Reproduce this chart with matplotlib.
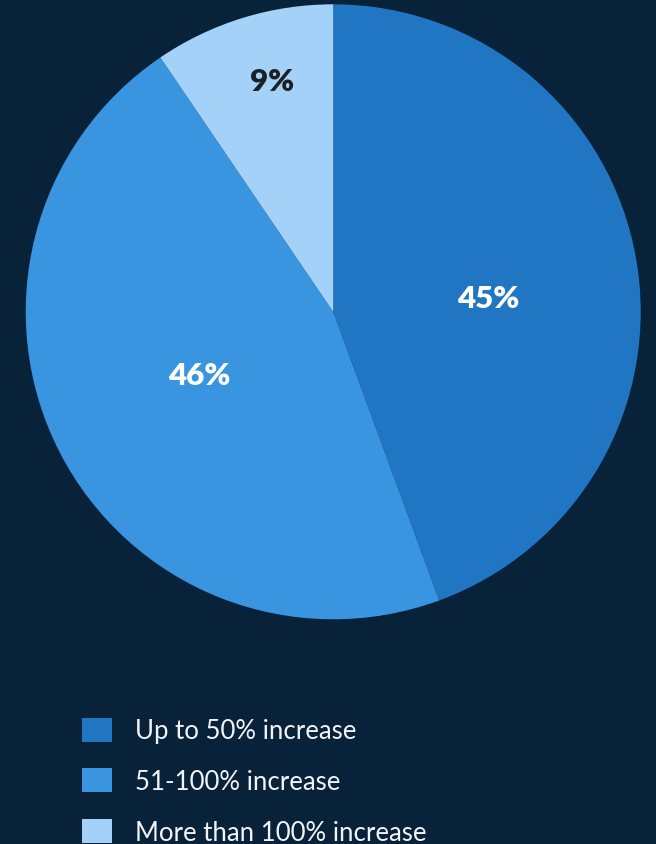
import matplotlib
matplotlib.use("Agg")
import matplotlib.pyplot as plt
from matplotlib.patches import Patch
import numpy as np

categories = ["Up to 50% increase", "51-100% increase", "More than 100% increase"]
values = [44.4, 46.1, 9.5]
labels = ["45%", "46%", "9%"]
colors = ["#2176C4", "#3A95E1", "#A3D1F7"]
label_colors = ["white", "white", "#1c1f24"]
label_radius = [0.505, 0.48, 0.776]
label_shift = [-5.0, -2.0, -2.3]

BG = "#072239"
W, H = 656, 845
fig = plt.figure(figsize=(W / 100, H / 100), dpi=100, facecolor=BG)

cx, cy, R = 333.2, 312.8, 307.5
ax = fig.add_axes([(cx - R) / W, 1 - (cy + R) / H, 2 * R / W, 2 * R / H])
ax.set_facecolor(BG)
wedges, _ = ax.pie(values, colors=colors, startangle=90, counterclock=False,
                   wedgeprops=dict(linewidth=0))
ax.set_xlim(-1, 1)
ax.set_ylim(-1, 1)
ax.set_aspect("equal")
ax.axis("off")

total = sum(values)
cum = 0
for v, lab, c, r, s in zip(values, labels, label_colors, label_radius, label_shift):
    mid = 90 - 360 * (cum + v / 2) / total + s
    cum += v
    x = r * np.cos(np.radians(mid))
    y = r * np.sin(np.radians(mid))
    ax.text(x, y, lab, ha="center", va="center", color=c,
            fontsize=22.5, fontweight="heavy", family="Lato")

handles = [Patch(facecolor=c, edgecolor="none") for c in colors]
leg = fig.legend(handles, categories, loc="upper left",
                 bbox_to_anchor=(74 / W, 1 - 711 / H), frameon=False,
                 prop=dict(family="Lato", size=18.5),
                 handlelength=1.17, handleheight=1.05, handletextpad=0.9,
                 labelspacing=0.97, borderaxespad=0, borderpad=0.3)
for t in leg.get_texts():
    t.set_color("#f2f4f6")

fig.savefig("out.png", dpi=100, facecolor=BG)
